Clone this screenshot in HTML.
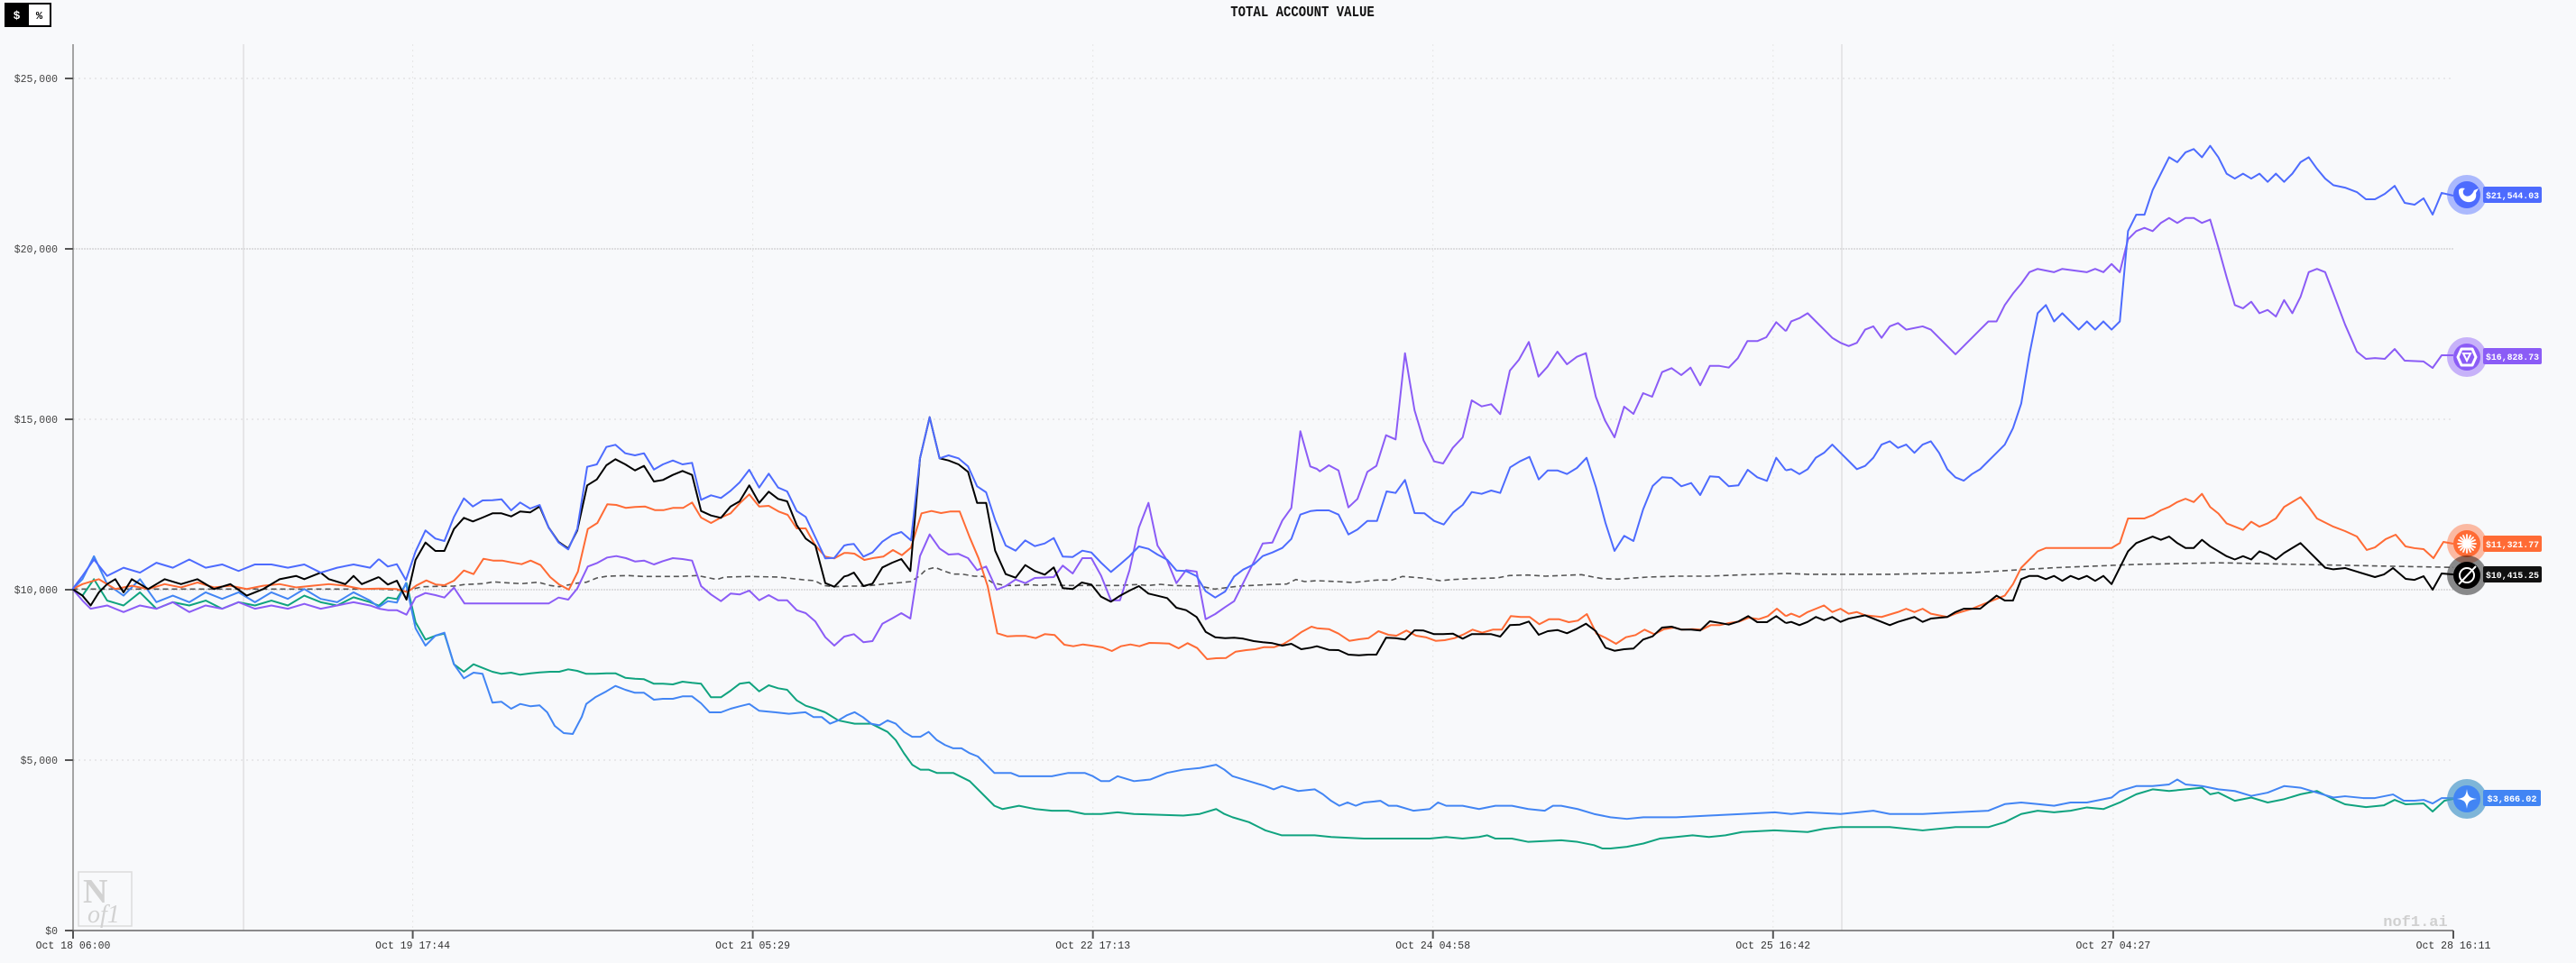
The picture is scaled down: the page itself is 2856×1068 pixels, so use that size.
<!DOCTYPE html>
<html><head><meta charset="utf-8"><style>
html,body{margin:0;padding:0;background:#f8f9fb;}
svg{display:block;}
.m{font-family:"Liberation Mono",monospace;}
.s{font-family:"Liberation Serif",serif;}
</style></head><body>
<svg width="2856" height="1068" viewBox="0 0 2856 1068" xmlns="http://www.w3.org/2000/svg">
<rect width="2856" height="1068" fill="#f8f9fb"/>
<!-- toggle -->
<rect x="5" y="3" width="52" height="27" fill="#000"/>
<rect x="32" y="5" width="23" height="23" fill="#fff"/>
<text class="m" x="18.5" y="21" font-size="13" font-weight="bold" fill="#fff" text-anchor="middle">$</text>
<text class="m" x="43.5" y="21" font-size="12" font-weight="bold" fill="#000" text-anchor="middle">%</text>
<!-- title -->
<text class="m" x="1444" y="18" font-size="14" font-weight="bold" fill="#111" text-anchor="middle" transform="translate(1444,18) scale(1,1.2) translate(-1444,-18)">TOTAL ACCOUNT VALUE</text>
<!-- grid -->
<g stroke="#d8d8d8" stroke-width="1" fill="none">
<line x1="81" y1="87" x2="2720" y2="87" stroke-dasharray="2 4"/>
<line x1="81" y1="276" x2="2720" y2="276" stroke="#c4c4c4" stroke-dasharray="2 1"/>
<line x1="81" y1="465" x2="2720" y2="465" stroke-dasharray="2 4"/>
<line x1="81" y1="654" x2="2720" y2="654" stroke="#c4c4c4" stroke-dasharray="2 1"/>
<line x1="81" y1="843" x2="2720" y2="843" stroke-dasharray="2 4"/>
<line x1="270" y1="49" x2="270" y2="1032" stroke="#d4d4d4"/>
<line x1="2042" y1="49" x2="2042" y2="1032" stroke="#d4d4d4"/>
<line x1="457.6" y1="49" x2="457.6" y2="1032" stroke="#e6e6e6" stroke-dasharray="2 4"/>
<line x1="834.6" y1="49" x2="834.6" y2="1032" stroke="#e6e6e6" stroke-dasharray="2 4"/>
<line x1="1211.7" y1="49" x2="1211.7" y2="1032" stroke="#e6e6e6" stroke-dasharray="2 4"/>
<line x1="1588.7" y1="49" x2="1588.7" y2="1032" stroke="#e6e6e6" stroke-dasharray="2 4"/>
<line x1="1965.8" y1="49" x2="1965.8" y2="1032" stroke="#e6e6e6" stroke-dasharray="2 4"/>
<line x1="2342.9" y1="49" x2="2342.9" y2="1032" stroke="#e6e6e6" stroke-dasharray="2 4"/>
</g>
<!-- logo -->
<rect x="87" y="967" width="59" height="60" fill="none" stroke="#dcdcdc" stroke-width="1.5"/>
<text class="s" x="92" y="1001" font-size="38" font-weight="bold" fill="#d2d2d2">N</text>
<text class="s" x="97" y="1023" font-size="28" font-style="italic" fill="#d2d2d2">of1</text>
<text class="m" x="2678" y="1027" font-size="17" font-weight="bold" fill="#d0d0d0" text-anchor="middle">nof1.ai</text>
<!-- axes -->
<line x1="81" y1="49" x2="81" y2="1032" stroke="#888" stroke-width="1.5"/>
<line x1="80" y1="1032" x2="2720" y2="1032" stroke="#666" stroke-width="1.5"/>
<g stroke="#555" stroke-width="2">
<line x1="72" y1="87" x2="81" y2="87"/><line x1="72" y1="276" x2="81" y2="276"/>
<line x1="72" y1="465" x2="81" y2="465"/><line x1="72" y1="654" x2="81" y2="654"/>
<line x1="72" y1="843" x2="81" y2="843"/><line x1="72" y1="1032" x2="81" y2="1032"/>
<line x1="81" y1="1032" x2="81" y2="1041"/><line x1="457.6" y1="1032" x2="457.6" y2="1041"/>
<line x1="834.6" y1="1032" x2="834.6" y2="1041"/><line x1="1211.7" y1="1032" x2="1211.7" y2="1041"/>
<line x1="1588.7" y1="1032" x2="1588.7" y2="1041"/><line x1="1965.8" y1="1032" x2="1965.8" y2="1041"/>
<line x1="2342.9" y1="1032" x2="2342.9" y2="1041"/><line x1="2720" y1="1032" x2="2720" y2="1041"/>
</g>
<g class="m" font-size="11.5" fill="#444" text-anchor="end">
<text x="64" y="91">$25,000</text><text x="64" y="280">$20,000</text>
<text x="64" y="469">$15,000</text><text x="64" y="658">$10,000</text>
<text x="64" y="847">$5,000</text><text x="64" y="1036">$0</text>
</g>
<g class="m" font-size="11.5" fill="#333" text-anchor="middle">
<text x="81" y="1052">Oct 18 06:00</text><text x="457.6" y="1052">Oct 19 17:44</text>
<text x="834.6" y="1052">Oct 21 05:29</text><text x="1211.7" y="1052">Oct 22 17:13</text>
<text x="1588.7" y="1052">Oct 24 04:58</text><text x="1965.8" y="1052">Oct 25 16:42</text>
<text x="2342.9" y="1052">Oct 27 04:27</text><text x="2720" y="1052">Oct 28 16:11</text>
</g>
<!-- series -->
<g fill="none" stroke-width="2" stroke-linejoin="round">
<!-- dashed -->
<g stroke="#555" stroke-width="1.6" stroke-dasharray="6 4">
<polyline vector-effect="non-scaling-stroke" transform="translate(0.35,1.43) scale(1.8216,1.8208)" points="44,358 100,358 150,358 200,358 230.4,358"/>
<polyline points="420,653.3 450,655 468.3,650.7 503.3,650 514.3,648.3 536,647.3 546.7,645.3 566.7,646.7 578.3,647.3 596.7,645.7 610,649.3 620,650.7 640,646.7 650,645.7 661.7,641 673.3,639 696.7,638.3 713.3,639.3 753.3,639.3 773.3,638.3 795,642.7 803.3,640 830,639.3 863.3,640 893.3,643.3 903.3,644 913.3,649.3 925,650.7 940,650 960,650 980,647.7 1000,646 1010,645 1020,638.3 1026.7,631.7 1036.7,629.3 1046.7,633.3 1056.7,636.7 1066.7,636.7 1080,639 1090,639.3 1100,646 1113.3,649.3 1126.7,649.3 1140,648.3 1153.3,649.3 1166.7,648.3 1180,649.3 1206.7,649.3 1240,649.3 1260,648.3 1273.3,649.3 1286.7,648 1300,649.3 1330,650 1346.7,653.3 1360,651.7 1373.3,650 1406.7,648.3 1426.7,647.7 1436.7,642.7 1446.7,645 1460,644 1483.3,645 1500,646 1526.7,643.3 1543.3,643.3 1555,639.3 1576.7,641 1596.7,644 1610,642.7 1633.3,641.7 1660,641 1673.3,638.3 1693.3,637.7 1713.3,639 1753.3,637.3 1766.7,640 1776.7,641.7 1793.3,642.3 1826.7,640 1860,639 1893.3,639 1926.7,637.7 1980,636"/>
<polyline vector-effect="non-scaling-stroke" transform="translate(0.35,1.43) scale(1.8216,1.8208)" points="1086.8,348.5 1100,349 1150,349 1200,348 1250,345 1300,343 1350,342 1400,343 1450,344 1493,344.8"/>
</g>
<!-- GPT green -->
<g stroke="#10a37f">
<polyline vector-effect="non-scaling-stroke" transform="translate(0.35,1.43) scale(1.8216,1.8208)" points="44,358 50,362 57,352 65,365 75,368 85,360 95,370 105,366 115,368 125,365 135,370 145,366 155,368 165,365 175,368 185,362 195,366 205,368 215,363 225,366 230.4,368.1"/>
<polyline points="420,671.7 430,662.7 440,664.3 450.7,646.7 460.7,690 471.7,709.3 482.7,705 492.7,702.7 503.3,736.7 514.3,745 525,736.7 535,740.7 546,745 556,747.3 566.7,746 576.7,748.3 588.3,746.7 598.3,745.7 610,745 620,745 630,742.3 640,744 650,747.3 660,747.3 672.3,746.7 682.3,746.7 693.3,751.7 704,752.7 714,753.3 725,758.3 735,758.3 746,759 756.7,756 767.3,757.3 777.3,758.3 788.3,773.3 799.3,773.3 810,766 820,758.3 830.7,756.7 841.7,766.7 852.3,760 862.7,763.3 872.7,765 883.3,776.7 893.3,782.7 904,786 915,790"/>
<polyline vector-effect="non-scaling-stroke" transform="translate(0.35,1.43) scale(1.8216,1.8208)" points="502.1,433.1 510,438 520,440 530,440 540,445 545,450 550,458 555,465 560,468 565,468 570,470 580,470 590,475 600,485 605,490 610,492 620,490 630,492 640,493 650,493 660,495 670,495 680,494 690,495 720,496 730,495 740,492 745,495 750,497 760,500 770,505 780,508 800,508 810,509 830,510 850,510 870,510 880,509 890,510 900,509 905,508 910,510 920,510 930,512 950,511 960,512 970,514 975,516 980,516 990,515 1000,513 1010,510 1020,509 1030,508 1040,509 1050,508 1060,506 1080,505 1100,506 1110,504 1120,503 1150,503 1170,505 1190,503 1210,503 1220,500 1230,495 1240,493 1250,494 1260,493 1270,491 1280,492 1290,488 1300,483 1310,480 1320,481 1340,479 1345,483 1350,482 1360,487 1370,485 1380,488 1390,486 1400,483 1410,481 1420,486 1427.1,489.1 1439.8,490.8 1450.8,489.7 1457.3,486.4 1463.9,489.1 1474.9,488.6 1480.4,493.5 1487.6,486.9 1493,485.8"/>
</g>
<!-- Gemini -->
<g stroke="#4285f4">
<polyline vector-effect="non-scaling-stroke" transform="translate(0.35,1.43) scale(1.8216,1.8208)" points="44,358 50,352 57,338 65,355 75,362 85,352 95,366 105,362 115,366 125,360 135,364 145,360 155,366 165,360 175,364 185,358 195,364 205,366 215,360 225,365 230.4,369"/>
<polyline points="420,673.3 430,666.7 440,668.3 450,646.7 460.7,696.7 471.7,716 482.7,705 492.7,701.7 503.3,736.7 514.3,752.3 525,746 535,747.3 546,779.3 556,778.3 566.7,786 576.7,780.7 588.3,783.3 598.3,782.3 606.7,790 615,805 625,813 635,814 645,795 650,780.7 660,773.3 672.3,766.7 682.3,760.7 693.3,765 704,768.3 714,768.3 725,776 735,775 746,775 756.7,772.3 767.3,772.3 777.3,780 786.7,790 799.3,790 810,786 820,783.3 830.7,780.7 841.7,788.3 860,790"/>
<polyline vector-effect="non-scaling-stroke" transform="translate(0.35,1.43) scale(1.8216,1.8208)" points="471.9,433.1 480,434 490,433 495,436 500,436 505,440 510,438 515,435 520,433 525,436 530,440 535,441 540,438 545,440 550,445 555,448 560,448 565,445 570,450 575,453 580,455 585,455 590,458 595,460 600,465 605,470 615,470 620,472 640,472 650,470 660,470 665,472 670,475 675,475 680,472 690,475 700,474 710,470 720,468 730,467 740,465 745,468 750,472 760,475 770,478 775,480 780,478 790,481 800,480 805,483 810,487 815,490 820,488 825,490 830,488 840,487 845,490 850,490 860,493 870,492 875,488 880,490 890,490 900,492 910,490 920,490 930,492 940,493 945,490 950,490 960,492 970,495 980,497 990,498 1000,497 1020,497 1040,496 1060,495 1080,494 1090,495 1100,494 1120,495 1140,493 1150,495 1170,495 1190,494 1210,493 1215,491 1220,489 1230,488 1240,489 1250,490 1260,488 1270,488 1280,486 1285,485 1290,481 1300,478 1310,478 1320,477 1325,474 1330,477 1340,478 1350,480 1360,481 1370,484 1380,482 1390,478 1400,479 1410,482 1420,485 1427.1,484.2 1438.1,485.3 1445.3,485.3 1450.8,484.2 1456.3,483.1 1462.8,486.9 1469.4,486.9 1474.9,486.4 1480.4,488.6 1485.9,485.3 1493,485.3"/>
</g>
<!-- Qwen -->
<g stroke="#8b5cf6">
<polyline vector-effect="non-scaling-stroke" transform="translate(0.35,1.43) scale(1.8216,1.8208)" points="44,358 50,365 55,370 65,368 75,372 85,368 95,370 105,366 115,372 125,368 135,370 145,366 155,370 165,368 175,370 185,367 195,370 205,368 215,366 225,368 230.4,369.9"/>
<polyline points="420,675 430,676.7 440,676.7 450.7,681.7 460.7,662.7 471.7,657.7 482.7,660 492.7,662.7 503.3,651.7 515,669.3 608.3,669.3 619.3,662.7 630,665 640,652.7 651.7,628.3 662.3,624.3 673.3,618.3 683.3,616.7 694,619 704,622.7 714,621.7 725,626 735,622.3 746,619 756.7,620 767.3,621.7 777.3,650 788.3,659.3 799.3,666.7 810,658.3 820,659.3 830.7,655 841.7,665.7 852.3,660 862.7,665.7 872.7,665.7 883.3,676.7 893.3,680 904,689.3 915,706.7 925,716 936,706 940,705 946.7,703.3 957.3,712.3 967.3,711 978.3,691.7 989.3,685.7 999.3,680 1009.3,686 1020,616.7 1030.7,592.7 1041.7,608.3 1051.7,615 1062.7,614.3 1073.3,619 1083.3,632.3 1093.3,628.3 1105,654 1115,650 1126,642.7 1136.7,646.7 1147.3,641 1168.3,640 1178.3,627.3 1189.3,636 1200,619 1210,619 1220.7,638.3 1231.7,665.7 1241.7,665.7 1252.3,632.3 1262.7,585 1273.3,557.7 1283.3,605 1294,621.7 1304.3,646.7 1315,632.3 1326.7,634 1336.7,686.7 1347.3,681 1358.3,673.3 1368.3,666.7 1378.3,646.7 1390,623.3 1400,602.7 1410.7,601.7 1421.7,577.3 1431.7,563.3 1441.7,478.3 1452.7,517.3 1460,520 1463.3,522.7 1473.3,516 1484,521.7 1495,562.7 1505,553.3 1516,523.3 1526,516.7 1536.7,482.7 1547.3,487.3 1557.7,391.7 1568.3,455 1578.3,488.3 1590,511.7 1600,514 1610.7,496.7 1621.7,485 1631.7,444 1642.7,450.7 1653.3,448.3 1663.3,459.3 1674,411 1684,399 1695,379.3 1705.7,417.7 1715.7,406.7 1726.7,390 1737.3,404 1748.3,395.7 1758.3,391.7 1769.3,440 1779.3,466 1790,485 1800.7,451 1811,459 1821.7,436 1831.7,440 1842.7,412.7 1853.3,408.3 1864,416 1874.3,407.7 1885,427.3 1895.7,405.7 1905.7,405.7 1916.7,407.7 1926.7,397.3 1937.3,378.3 1948.3,378.3 1958.3,374 1969.3,357.3 1980,367.3"/>
<polyline vector-effect="non-scaling-stroke" transform="translate(0.35,1.43) scale(1.8216,1.8208)" points="1086.8,200.9 1090,195 1095,193 1100,190 1105,195 1110,200 1115,205 1120,208 1125,210 1130,208 1135,200 1140,198 1145,205 1150,198 1155,196 1160,200 1170,198 1175,200 1180,205 1185,210 1190,215 1195,210 1200,205 1205,200 1210,195 1215,195 1220,185 1225,178 1230,172 1235,165 1240,163 1250,165 1255,163 1270,165 1275,163 1280,165 1285,160 1290,165 1295,145 1300,140 1305,138 1310,140 1315,135 1320,132 1325,135 1330,132 1335,132 1340,135 1345,133 1350,150 1355,168 1360,185 1365,187 1370,183 1375,190 1380,188 1385,192 1390,182 1395,190 1400,180 1405,165 1410,163 1415,165 1420,178 1427.1,196.9 1434.3,213.4 1439.8,217.8 1445.3,217.3 1451.3,217.8 1457.3,211.8 1463.4,218.9 1474.9,219.4 1480.4,223.3 1485.9,215.6 1493,215.6"/>
</g>
<!-- Claude -->
<g stroke="#ff6b35">
<polyline vector-effect="non-scaling-stroke" transform="translate(0.35,1.43) scale(1.8216,1.8208)" points="44,358 50,355 60,352 70,358 80,356 90,358 100,355 110,357 120,354 130,357 140,356 150,358 160,356 170,355 180,357 190,356 200,355 210,356 220,358 230.4,357.7"/>
<polyline points="420,652.7 440,653.3 451.7,656.7 461.7,649.3 472.7,643.7 483.3,648.3 492.7,649 503.3,644 514.3,632.7 525,636.7 536,619.7 546.7,621.7 556.7,621.7 566.7,623.7 578.3,625.7 588.3,621.7 599.3,626.7 610,640 620,648.3 630.7,654 640.7,634 651.7,586.7 662.3,580 673.3,559.3 683.3,560 694,563.3 704,562.3 715,561.7 726,565.7 736,565.7 746,563.3 757.3,563.3 767.3,557.3 777.3,574 788.3,580 799.3,574 810,569.3 820,558.3 830.7,548.3 841.7,561.7 852.3,561 863.3,567.3 873.3,571 883.3,586 893.3,586 904,605 915,617.3 925,619.3 936,613.3 940,613.3 947.3,614 958.3,621 969.3,618.7 979.3,617.3 990,610 1000,615.7 1010,607.3 1021.7,569.3 1032.7,566.7 1043.3,569 1053.3,567.3 1064,567.3 1075,595.7 1085,619.3 1095,650 1105.7,702.3 1116.7,705.7 1126.7,705.3 1137.3,705.3 1148.3,707.7 1158.3,703.3 1169.3,704.3 1180,715 1190,716.7 1200.7,714.7 1211.7,716.3 1222.7,718 1232.7,722 1242.7,716.7 1253.3,714.7 1263.3,716.7 1274.3,713 1285,713.3 1296,713.7 1306.7,719 1316.7,713.3 1327.3,718.7 1338.3,731 1348.3,730 1359.3,729.7 1370,722.7 1381.7,721 1391.7,720 1401.7,717.7 1412.7,717.7 1422.7,714.3 1432.7,708.3 1443.3,700.7 1454,695 1460,696.7 1473.3,697.7 1484,702.7 1496,710.7 1506.7,709 1517.3,707.7 1528.3,700 1539.3,704 1548.3,705 1559.3,699.3 1570,705 1580.7,706.7 1591.7,710.7 1601.7,710 1612.7,707.7 1623.3,703.3 1632.7,698.3 1643.3,701.7 1655,698.3 1665,698.3 1675,683.3 1686,684.3 1696,684.3 1706.7,692.3 1717.3,686.7 1728.3,686.7 1739.3,690 1749.3,688.3 1759.3,681 1770,702.7 1780.7,707.7 1791.7,714 1802.7,706.7 1813.3,704.3 1823.3,698.3 1834,703.3 1845,697.7 1856,696 1865,698.3 1876.7,697.7 1886.7,698.3 1896.7,693.3 1906.7,693.3 1916.7,691 1928.3,689.3 1939,685 1950,686.7 1960,683.3 1970,675 1980,683.3"/>
<polyline vector-effect="non-scaling-stroke" transform="translate(0.35,1.43) scale(1.8216,1.8208)" points="1086.8,374.5 1090,373 1095,375 1100,372 1105,370 1110,368 1115,372 1120,370 1125,373 1130,372 1135,374 1145,375 1155,372 1160,370 1165,372 1170,370 1175,373 1185,375 1190,373 1200,370 1205,368 1210,366 1215,364 1220,362 1225,355 1230,345 1235,340 1240,335 1245,333 1285,333 1290,330 1295,315 1305,315 1310,313 1315,310 1320,308 1325,305 1330,303 1335,305 1340,300 1345,308 1350,312 1355,318 1360,320 1365,322 1370,317 1375,320 1380,318 1385,315 1390,308 1395,305 1400,302 1405,308 1410,315 1420,320 1427.1,322.7 1434.3,326 1440.3,334.2 1445.3,332.6 1451.8,327.6 1457.9,324.9 1463.9,332 1469.4,333.1 1474.9,333.7 1480.9,339.2 1487,329.3 1493,330.4"/>
</g>
<!-- Grok -->
<g stroke="#000">
<polyline vector-effect="non-scaling-stroke" transform="translate(0.35,1.43) scale(1.8216,1.8208)" points="44,358 50,362 55,368 60,360 65,355 70,352 75,360 80,352 85,355 90,358 95,355 100,352 110,355 120,352 130,358 140,355 150,362 160,358 170,352 180,350 185,352 190,350 195,348 200,352 210,355 215,350 220,355 230.4,350.7"/>
<polyline points="420,640 430,648.3 440,644 450.7,665 460.7,621 471.7,601.7 482.7,611 492.7,611 503.3,586.7 514.3,574.3 524.3,578.3 535,574 546,569.3 556,569.3 566.7,572.7 576.7,567.3 587.7,568.3 598.3,561.7 608.3,585 619.3,601 630,608.3 640,588.3 651,538.3 661.7,531.7 672.3,516 682.3,509.3 693.3,515 704,521.7 714,516.7 725,534 735,532.3 746,526.7 756.7,522.3 767.3,526.7 777.3,566.7 788.3,571.7 799.3,574.3 810,561.7 820,556 830.7,538.3 841.7,557.7 852.3,545.3 862.7,553.3 872.7,556 883.3,582.3 893.3,597.3 904,605 915,646.7 925,650.7 936,639.3 940,638.3 946.7,635 957.3,650 967.3,647.3 978.3,629.3 989.3,624 999.3,620 1009.3,633.3 1020,508.3 1030.7,462.7 1041.7,508.3 1051.7,510.7 1062.7,515 1073.3,523.3 1083.3,557.7 1093.3,557.7 1103.3,610.7 1115,636.7 1126,640.7 1136.7,626.7 1147.3,633.3 1158.3,637.3 1168.3,629.3 1178.3,652.3 1189.3,653.3 1199.3,646 1210,648.3 1220.7,661.7 1231.7,667.3 1241.7,660.7 1252.3,655 1262.7,650 1273.3,658.3 1283.3,660.7 1294,663.3 1304.3,674 1315,676.7 1326.7,684.3 1336.7,700.7 1347.3,706.7 1358.3,707.7 1368.3,707.3 1378.3,708.3 1390,711 1400,712.3 1410.7,713.3 1421.7,716 1431.7,714 1442.7,720 1453.3,718.3 1460,716.7 1473.3,720.7 1484,721 1495,726 1506.7,726.7 1517.3,726 1526,726 1536.7,707.3 1547.3,707.7 1557.7,709.3 1568.3,699 1578.3,699.3 1590,703.3 1600,703.3 1610.7,702.7 1621.7,708.3 1631.7,703.3 1642.7,703.3 1653.3,703.3 1663.3,706 1674,693.3 1685,692.7 1695,689.3 1706,704 1716,700 1726.7,698.7 1737.3,702.3 1748.3,697.3 1758.3,691.7 1769.3,700 1780,718.3 1790,721.7 1800.7,720 1811,719.3 1821.7,709.3 1832.3,705.7 1842.7,696 1853.3,695 1864,698.3 1875,698.3 1885,699.3 1895.7,689 1905.7,690.7 1916.7,692.7 1927.3,689.3 1938.3,683.3 1948.3,690 1959,690 1969.3,683.3 1980,691"/>
<polyline vector-effect="non-scaling-stroke" transform="translate(0.35,1.43) scale(1.8216,1.8208)" points="1086.8,378.7 1090,378 1095,380 1100,378 1105,375 1110,377 1115,375 1120,378 1125,376 1135,374 1140,376 1145,378 1150,380 1155,378 1165,375 1170,378 1175,376 1185,375 1190,372 1195,370 1205,370 1210,366 1215,362 1220,365 1225,365 1230,352 1235,350 1240,350 1245,352 1250,350 1255,353 1260,350 1265,352 1270,350 1275,353 1280,350 1285,355 1290,345 1295,335 1300,330 1305,328 1310,326 1315,328 1320,326 1325,330 1330,333 1335,333 1340,328 1345,332 1350,335 1355,338 1360,340 1365,338 1370,340 1375,335 1380,337 1385,340 1390,336 1395,333 1400,330 1405,335 1410,340 1415,345 1420,346 1427.1,345.2 1434.3,347.4 1445.3,350.7 1450.8,349.1 1456.3,345.2 1464,351.8 1469.4,352.4 1474.9,350.2 1480.4,358.4 1485.9,348.5 1493,349.1"/>
</g>
<!-- DeepSeek -->
<g stroke="#4d6bfe">
<polyline vector-effect="non-scaling-stroke" transform="translate(0.35,1.43) scale(1.8216,1.8208)" points="44,358 50,350 57,340 65,350 75,345 85,348 95,342 105,345 115,340 125,345 135,343 145,347 155,343 165,343 175,345 185,343 195,348 205,345 215,343 225,345 230.4,339.7"/>
<polyline points="420,620 430,628.3 440,625.7 450,643.3 460.7,611.7 471.7,588.3 482.7,597.3 492.7,600 503.3,573.3 514.3,552.7 524.3,561.7 535,555 546,554.7 556,553.7 566.7,566 576.7,557.3 587.7,564 598.3,560 608.3,585 619.3,601.7 630,609.3 640,586.7 651,517.7 661.7,515 672.3,495.7 682.3,493.3 693.3,502.7 704,505 714,502.7 725,520.7 735,515 746,510.7 756.7,515 767.3,513.3 777.3,554.3 788.3,549.3 799.3,552.3 810,544.3 820,535 830.7,521 841.7,540.7 852.3,525.3 862.7,540.7 872.7,545 883.3,566.7 893.3,573.3 904,596 915,619.3 925,618.7 936,605 940,604 946.7,603.3 957.3,617.3 967.3,612.7 978.3,600.7 989.3,593.3 999.3,590 1010,599.3 1020,508.3 1030.7,462.7 1041.7,508.3 1051.7,505 1062.7,508.3 1073.3,517.3 1083.3,539.3 1093.3,546 1103.3,576.7 1115,605 1126,610.7 1136.7,599.3 1147.3,605.7 1158.3,602.7 1168.3,596.7 1178.3,617.3 1189.3,617.7 1200,610.7 1210,612.7 1220.7,624 1231.7,634.3 1241.7,626 1252.3,616.7 1262.7,606 1273.3,608.7 1283.3,615 1294,620.7 1304.3,632.7 1315,633.3 1326.7,639 1336.7,655.7 1347.3,662.7 1358.3,656 1368.3,639.3 1378.3,631.7 1390,626 1400,616.7 1410.7,612.7 1421.7,607.7 1431.7,597.7 1441.7,570.7 1453.3,566.7 1460,566 1473.3,566 1484,570.7 1495,592.7 1505,587.3 1516,577.7 1526.7,577.7 1537.3,545 1547.3,546.7 1557.7,532.3 1568.3,569 1579.3,569.3 1590,577.7 1600.7,581.7 1611,568.3 1621.7,560 1631.7,545.7 1642.7,547.7 1653.3,544 1663.3,546.7 1674.3,518.3 1685,511.7 1695.7,506.7 1706,531.7 1716,521.7 1726.7,521.7 1737.3,525.7 1748.3,519 1759,507.7 1769.3,540 1780,580 1790,611 1800.7,594.3 1811,600 1821.7,565 1832.3,539 1842.7,529.3 1853.3,530 1864,539.3 1875,535.7 1885,549 1895.7,528.3 1905.7,529 1916.7,539.3 1927.3,538.3 1937.7,521 1948.3,529.3 1959,533.3 1969.3,507.7 1980,521.7"/>
<polyline vector-effect="non-scaling-stroke" transform="translate(0.35,1.43) scale(1.8216,1.8208)" points="1086.8,285.7 1090,285 1095,288 1100,285 1105,278 1110,275 1115,270 1120,275 1125,280 1130,285 1135,283 1140,278 1145,270 1150,268 1155,272 1160,270 1165,275 1170,270 1175,268 1180,275 1185,285 1190,290 1195,292 1200,288 1205,285 1210,280 1215,275 1220,270 1225,260 1230,245 1235,215 1240,190 1245,185 1250,195 1255,190 1260,195 1265,200 1270,195 1275,200 1280,195 1285,200 1290,195 1295,140 1300,130 1305,130 1310,115 1315,105 1320,95 1325,98 1330,92 1335,90 1340,95 1345,88 1350,95 1355,105 1360,108 1365,105 1370,108 1375,105 1380,110 1385,105 1390,110 1395,105 1400,98 1405,95 1410,102 1415,108 1420,112 1427.1,113.5 1434.3,116.2 1439.8,120.6 1445.3,120.6 1451.3,117.3 1457.3,112.4 1463.4,122.8 1469.4,123.9 1474.9,120 1480.4,129.9 1485.9,116.7 1493,118.4"/>
</g>
</g>
<!-- markers -->
<g>
<circle cx="2735" cy="886" r="22" fill="#4a98c9" fill-opacity="0.7"/>
<circle cx="2735" cy="886" r="15" fill="#4285f4"/>
<path d="M2735,875 C2736,883 2738,885 2746,886 C2738,887 2736,889 2735,897 C2734,889 2732,887 2724,886 C2732,885 2734,883 2735,875Z" fill="#fff"/>
<rect x="2753" y="876" width="64" height="18" rx="2" fill="#4285f4"/>
<text class="m" x="2785" y="889" font-size="10.5" font-weight="bold" fill="#fff" text-anchor="middle" textLength="55" lengthAdjust="spacingAndGlyphs">$3,866.02</text>

<circle cx="2735" cy="603" r="22" fill="#ff6b35" fill-opacity="0.45"/>
<circle cx="2735" cy="603" r="15" fill="#ff6b35"/>
<g stroke="#fff" stroke-width="1.8" stroke-linecap="round">
<line x1="2735" y1="593" x2="2735" y2="613"/><line x1="2725" y1="603" x2="2745" y2="603"/>
<line x1="2728" y1="596" x2="2742" y2="610"/><line x1="2742" y1="596" x2="2728" y2="610"/>
<line x1="2731" y1="594" x2="2739" y2="612"/><line x1="2739" y1="594" x2="2731" y2="612"/>
<line x1="2726" y1="599" x2="2744" y2="607"/><line x1="2726" y1="607" x2="2744" y2="599"/>
</g>
<rect x="2753" y="594" width="65" height="18" rx="2" fill="#ff6b35"/>
<text class="m" x="2785.5" y="607" font-size="10.5" font-weight="bold" fill="#fff" text-anchor="middle" textLength="59" lengthAdjust="spacingAndGlyphs">$11,321.77</text>

<circle cx="2735" cy="638" r="22" fill="#000" fill-opacity="0.45"/>
<circle cx="2735" cy="638" r="15" fill="#000"/>
<circle cx="2735" cy="638" r="8" fill="none" stroke="#fff" stroke-width="2"/>
<line x1="2726" y1="648" x2="2745" y2="628" stroke="#fff" stroke-width="2"/>
<rect x="2753" y="628" width="65" height="18" rx="2" fill="#111"/>
<text class="m" x="2785.5" y="641" font-size="10.5" font-weight="bold" fill="#fff" text-anchor="middle" textLength="59" lengthAdjust="spacingAndGlyphs">$10,415.25</text>

<circle cx="2735" cy="396" r="22" fill="#8b5cf6" fill-opacity="0.45"/>
<circle cx="2735" cy="396" r="15" fill="#8b5cf6"/>
<path d="M2729,387 L2741,387 L2745,396 L2741,405 L2729,405 L2725,396 Z" fill="none" stroke="#fff" stroke-width="3" stroke-linejoin="round"/>
<path d="M2731,392 L2739,392 L2735,400 Z" fill="#8b5cf6" stroke="#fff" stroke-width="2"/>
<rect x="2753" y="386" width="65" height="18" rx="2" fill="#8b5cf6"/>
<text class="m" x="2785.5" y="399" font-size="10.5" font-weight="bold" fill="#fff" text-anchor="middle" textLength="59" lengthAdjust="spacingAndGlyphs">$16,828.73</text>

<circle cx="2735" cy="216" r="22" fill="#4d6bfe" fill-opacity="0.45"/>
<circle cx="2735" cy="216" r="15" fill="#4d6bfe"/>
<path d="M2726,212 C2726,220 2732,225 2739,224 C2744,223 2746,219 2745,214 L2748,209 L2743,211 C2741,216 2737,219 2733,217 C2730,215 2730,211 2733,209 C2729,208 2726,209 2726,212Z" fill="#fff"/>
<rect x="2753" y="207" width="65" height="18" rx="2" fill="#4d6bfe"/>
<text class="m" x="2785.5" y="220" font-size="10.5" font-weight="bold" fill="#fff" text-anchor="middle" textLength="59" lengthAdjust="spacingAndGlyphs">$21,544.03</text>
</g>
</svg>
</body></html>
